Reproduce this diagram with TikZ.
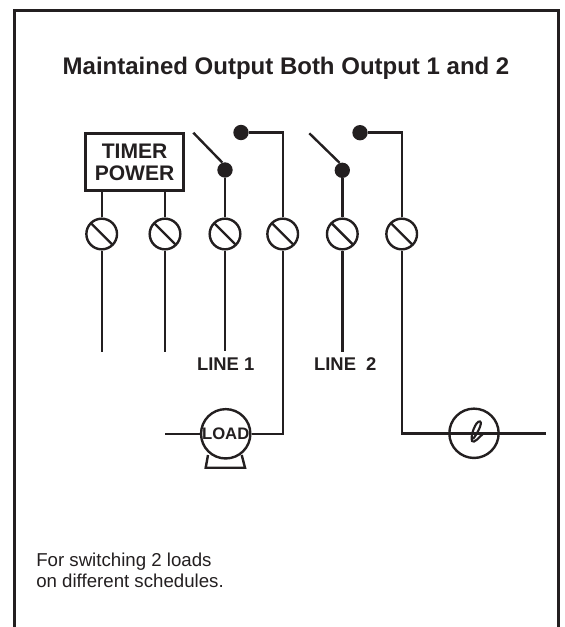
\documentclass[tikz,border=0pt]{standalone}
\usepackage{fontspec}
\setmainfont{Liberation Sans}
\usepackage{tikz}
\usetikzlibrary{calc}
\usetikzlibrary{positioning}
\definecolor{inkblack}{RGB}{35,31,32}
\tikzset{
  wire/.style={line width=1.8pt,color=inkblack},
  screwterm/.style={circle,draw=inkblack,line width=1.8pt,minimum size=23pt,inner sep=0pt,
    path picture={\draw[line width=1.8pt,color=inkblack] (path picture bounding box.north west) ++(3.5pt,-3.5pt) -- ($(path picture bounding box.south east)+(-3.5pt,3.5pt)$);}},
  contact/.style={circle,fill=inkblack,minimum size=11.5pt,inner sep=0pt},
  roundload/.style={circle,draw=inkblack,line width=1.8pt,minimum size=37pt,inner sep=0pt},
  smalllabel/.style={font=\bfseries\fontsize{13.8}{14}\selectfont,color=inkblack,anchor=base}
}
\begin{document}
\begin{tikzpicture}[x=0.75pt,y=-0.75pt]
\useasboundingbox (0,0) rectangle (564,627);
% frame
\draw[line width=2.25pt,color=inkblack] (14,627) to (14,11) to (558,11) to (558,627);
\node[font=\bfseries\fontsize{18}{18}\selectfont,color=inkblack,anchor=base] (title) at (286,75) {Maintained Output Both Output 1 and 2};
% timer box
\node[draw=inkblack,line width=2.25pt,minimum width=73pt,minimum height=42.5pt,inner sep=0pt,align=center,
  font=\bfseries\fontsize{15.8}{16.3}\selectfont,color=inkblack] (timer) at (134.6,162.2) {TIMER\\POWER};
% terminals
\node[screwterm] (t1) at (101.7,234) {};
\node[screwterm] (t2) at (165,234) {};
\node[screwterm] (t3) at (225,234) {};
\node[screwterm] (t4) at (282.7,234) {};
\node[screwterm] (t5) at (342.3,234) {};
\node[screwterm] (t6) at (401.7,234) {};
% contacts
\node[contact] (c1) at (225,170) {};
\node[contact] (c2) at (241,132.5) {};
\node[contact] (c3) at (342.3,170.3) {};
\node[contact] (c4) at (360,132.7) {};
\coordinate (arm1) at (193.3,132.7);
\coordinate (arm2) at (309.3,133.3);
\draw[wire] (arm1) to (c1.110);
\draw[wire] (arm2) to (c3.110);
\draw[wire] (c1) to (t3);
\draw[wire] (c3) to (t5);
\draw[wire] (t1 |- timer.south) to (t1);
\draw[wire] (t2 |- timer.south) to (t2);
% free ends
\coordinate (w1) at (101.7,352);
\coordinate (w2) at (165,352);
\coordinate (w3) at (225,351);
\coordinate (w5) at (342.3,352);
\draw[wire] (t1) to (w1);
\draw[wire] (t2) to (w2);
\draw[wire] (t3) to (w3);
\draw[wire] (t5) to (w5);
\node[smalllabel] (line1) at (225.7,370) {LINE 1};
\node[smalllabel] (line2) at (345.3,370) {LINE\ \ 2};
% load
\node[roundload,font=\bfseries\fontsize{12.5}{12.5}\selectfont,text=inkblack] (load) at (225.7,433.8) {LOAD};
\draw[wire] (208,455) to (205.7,467.7) to (245,467.7) to (241.7,455);
\coordinate (loadin) at (165,433.8);
\draw[wire] (loadin) to (load);
\draw[wire] (c2) -| (t4);
\draw[wire] (t4) |- (load);
% lamp
\node[roundload] (lamp) at (474,433.3) {};
\coordinate (lampout) at (545.7,433.3);
\draw[wire] (c4) -| (t6);
\draw[wire] (t6) |- (lamp);
\draw[wire] (lamp) to (lampout);
\draw[wire] (lamp.west) to (lamp.east);
\draw[line width=1.6pt,color=inkblack] (484,433) .. controls (479,437) and (474,444) .. (472,441) .. controls (470,436) and (476,420) .. (480,421.5) .. controls (483,423) and (477,434) .. (473,439);
\node[font=\fontsize{14}{15.75}\selectfont,align=left,anchor=north west,color=inkblack,inner sep=0pt] (note) at (36,553) {For switching 2 loads\\on different schedules.};
\end{tikzpicture}
\end{document}
